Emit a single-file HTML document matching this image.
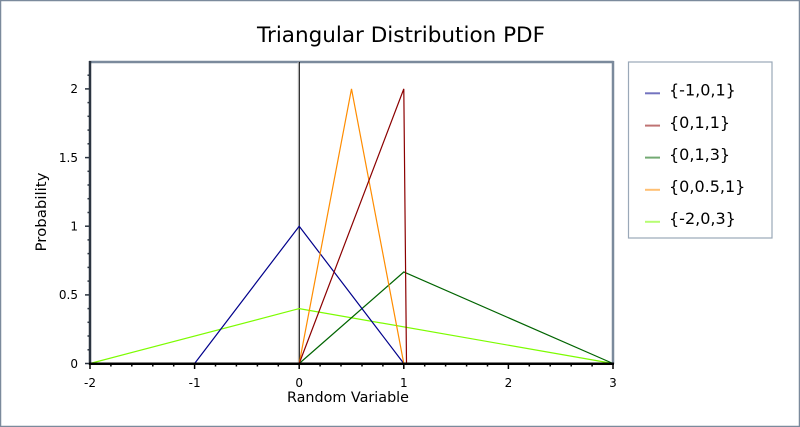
<!DOCTYPE html>
<html>
<head>
<meta charset="utf-8">
<style>
  html,body{margin:0;padding:0;background:#fff;}
  svg{display:block;}
  text{font-family:"DejaVu Sans","Liberation Sans",sans-serif;fill:#000;}
</style>
</head>
<body>
<svg width="800" height="427" viewBox="0 0 800 427" xmlns="http://www.w3.org/2000/svg">
  <!-- outer border -->
  <rect x="0.5" y="0.5" width="799" height="426" fill="#fff" stroke="#7b8a9c" stroke-width="1.5"/>

  <!-- title -->
  <text x="401" y="42" font-size="21" text-anchor="middle" textLength="288" lengthAdjust="spacingAndGlyphs">Triangular Distribution PDF</text>

  <!-- plot frame (top/right) -->
  <line x1="89" y1="62" x2="613.5" y2="62" stroke="#7b8a9c" stroke-width="2.5"/>
  <line x1="613" y1="61" x2="613" y2="364" stroke="#7b8a9c" stroke-width="2.5"/>

  <!-- vertical line at x=0 -->
  <line x1="298.2" y1="62" x2="298.2" y2="363" stroke="#d0d0d0" stroke-width="1"/>
  <line x1="299.3" y1="62" x2="299.3" y2="363" stroke="#000" stroke-width="1"/>

  <!-- series -->
  <g fill="none" stroke-width="1.2" stroke-linejoin="miter">
    <polyline points="90,363.5 299.2,308.6 613,363.5" stroke="#7cfc00"/>
    <polyline points="299.2,363.5 403.8,272 613,363.5" stroke="#006400"/>
    <polyline points="194.6,363.5 299.2,226.2 403.8,363.5" stroke="#00008b"/>
    <polyline points="299.2,363.5 351.5,88.9 403.8,363.5" stroke="#ff8c00"/>
    <polyline points="299.2,363.5 403.8,88.9 406.5,363.5" stroke="#8b0000"/>
  </g>

  <!-- left axis -->
  <line x1="90" y1="61" x2="90" y2="365" stroke="#2b3440" stroke-width="2.5"/>
  <g stroke="#2b3440" stroke-width="1.5">
    <!-- minor ticks every 0.1 -->
    <line x1="87.5" y1="349.8" x2="90" y2="349.8"/>
    <line x1="87.5" y1="336.0" x2="90" y2="336.0"/>
    <line x1="87.5" y1="322.3" x2="90" y2="322.3"/>
    <line x1="87.5" y1="308.6" x2="90" y2="308.6"/>
    <line x1="87.5" y1="281.1" x2="90" y2="281.1"/>
    <line x1="87.5" y1="267.4" x2="90" y2="267.4"/>
    <line x1="87.5" y1="253.6" x2="90" y2="253.6"/>
    <line x1="87.5" y1="239.9" x2="90" y2="239.9"/>
    <line x1="87.5" y1="212.5" x2="90" y2="212.5"/>
    <line x1="87.5" y1="198.7" x2="90" y2="198.7"/>
    <line x1="87.5" y1="185.0" x2="90" y2="185.0"/>
    <line x1="87.5" y1="171.3" x2="90" y2="171.3"/>
    <line x1="87.5" y1="143.8" x2="90" y2="143.8"/>
    <line x1="87.5" y1="130.1" x2="90" y2="130.1"/>
    <line x1="87.5" y1="116.3" x2="90" y2="116.3"/>
    <line x1="87.5" y1="102.6" x2="90" y2="102.6"/>
    <line x1="87.5" y1="75.2" x2="90" y2="75.2"/>
    <!-- major -->
    <line x1="85" y1="363.5" x2="90" y2="363.5"/>
    <line x1="85" y1="294.9" x2="90" y2="294.9"/>
    <line x1="85" y1="226.2" x2="90" y2="226.2"/>
    <line x1="85" y1="157.6" x2="90" y2="157.6"/>
    <line x1="85" y1="88.9" x2="90" y2="88.9"/>
  </g>
  <g font-size="12" text-anchor="end">
    <text x="78" y="367.8">0</text>
    <text x="78" y="299.2">0.5</text>
    <text x="78" y="230.5">1</text>
    <text x="78" y="161.9">1.5</text>
    <text x="78" y="93.2">2</text>
  </g>

  <!-- bottom axis -->
  <line x1="89" y1="363.8" x2="614" y2="363.8" stroke="#000" stroke-width="2.5"/>
  <g stroke="#000" stroke-width="1.5">
    <line x1="90" y1="363" x2="90" y2="369"/>
    <line x1="194.6" y1="363" x2="194.6" y2="369"/>
    <line x1="299.2" y1="363" x2="299.2" y2="369"/>
    <line x1="403.8" y1="363" x2="403.8" y2="369"/>
    <line x1="508.4" y1="363" x2="508.4" y2="369"/>
    <line x1="613" y1="363" x2="613" y2="369"/>
    <!-- minor every 0.2 -->
    <line x1="110.9" y1="363" x2="110.9" y2="366.5"/>
    <line x1="131.8" y1="363" x2="131.8" y2="366.5"/>
    <line x1="152.8" y1="363" x2="152.8" y2="366.5"/>
    <line x1="173.7" y1="363" x2="173.7" y2="366.5"/>
    <line x1="215.5" y1="363" x2="215.5" y2="366.5"/>
    <line x1="236.4" y1="363" x2="236.4" y2="366.5"/>
    <line x1="257.4" y1="363" x2="257.4" y2="366.5"/>
    <line x1="278.3" y1="363" x2="278.3" y2="366.5"/>
    <line x1="320.1" y1="363" x2="320.1" y2="366.5"/>
    <line x1="341.0" y1="363" x2="341.0" y2="366.5"/>
    <line x1="362.0" y1="363" x2="362.0" y2="366.5"/>
    <line x1="382.9" y1="363" x2="382.9" y2="366.5"/>
    <line x1="424.7" y1="363" x2="424.7" y2="366.5"/>
    <line x1="445.6" y1="363" x2="445.6" y2="366.5"/>
    <line x1="466.6" y1="363" x2="466.6" y2="366.5"/>
    <line x1="487.5" y1="363" x2="487.5" y2="366.5"/>
    <line x1="529.3" y1="363" x2="529.3" y2="366.5"/>
    <line x1="550.2" y1="363" x2="550.2" y2="366.5"/>
    <line x1="571.2" y1="363" x2="571.2" y2="366.5"/>
    <line x1="592.1" y1="363" x2="592.1" y2="366.5"/>
  </g>
  <g font-size="12" text-anchor="middle">
    <text x="90" y="387">-2</text>
    <text x="194.6" y="387">-1</text>
    <text x="299.2" y="387">0</text>
    <text x="403.8" y="387">1</text>
    <text x="508.4" y="387">2</text>
    <text x="613" y="387">3</text>
  </g>

  <!-- axis titles -->
  <text x="348" y="402" font-size="14" text-anchor="middle" textLength="122" lengthAdjust="spacingAndGlyphs">Random Variable</text>
  <text transform="translate(46,212) rotate(-90)" x="0" y="0" font-size="14" text-anchor="middle" textLength="79" lengthAdjust="spacingAndGlyphs">Probability</text>

  <!-- legend -->
  <rect x="628.5" y="62" width="143.5" height="176" fill="#fff" stroke="#9aa8b8" stroke-width="1.2"/>
  <g stroke-width="2">
    <line x1="645" y1="93.3" x2="660" y2="93.3" stroke="#00008b" stroke-opacity="0.55"/>
    <line x1="645" y1="125.6" x2="660" y2="125.6" stroke="#8b0000" stroke-opacity="0.55"/>
    <line x1="645" y1="157.6" x2="660" y2="157.6" stroke="#006400" stroke-opacity="0.55"/>
    <line x1="645" y1="189.8" x2="660" y2="189.8" stroke="#ff8c00" stroke-opacity="0.55"/>
    <line x1="645" y1="221.8" x2="660" y2="221.8" stroke="#7cfc00" stroke-opacity="0.55"/>
  </g>
  <g font-size="16">
    <text x="669" y="95.5">{-1,0,1}</text>
    <text x="669" y="127.8">{0,1,1}</text>
    <text x="669" y="159.8">{0,1,3}</text>
    <text x="669" y="192">{0,0.5,1}</text>
    <text x="669" y="224">{-2,0,3}</text>
  </g>
</svg>
</body>
</html>
